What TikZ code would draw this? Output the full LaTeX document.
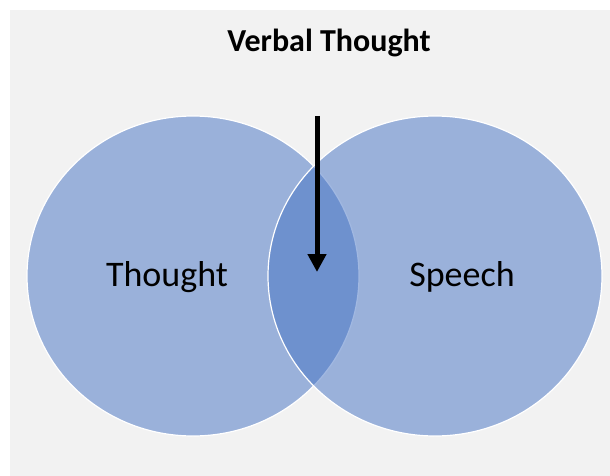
\documentclass[tikz,border=0pt]{standalone}
\usepackage{fontspec}
\setmainfont{Carlito}
\usetikzlibrary{arrows.meta}
\definecolor{vennblue}{HTML}{4472C4}
\definecolor{slidegray}{HTML}{F2F2F2}
\tikzset{vennset/.style={fill=vennblue, fill opacity=0.5, draw=white, line width=1.2pt},
  setlabel/.style={anchor=base, inner sep=0pt, font=\fontsize{36}{40}\selectfont}}

\begin{document}
\begin{tikzpicture}[x=1pt,y=-1pt]
  \useasboundingbox (0,0) rectangle (610,476);
  \fill[slidegray] (10,10) rectangle (610,476);
  % the two sets
  \draw[vennset] (193,276) ellipse (166 and 160);
  \draw[vennset] (435,276) ellipse (167 and 160);
  \node[setlabel] (thought) at (167,286) {Thought};
  \node[setlabel] (speech)  at (462,286) {Speech};
  \node[anchor=base, inner sep=0pt, font=\bfseries\fontsize{32}{36}\selectfont] (verbal) at (329,52) {Verbal Thought};
  % arrow into the overlap
  \coordinate (arrowtop) at (317,116);
  \coordinate (arrowtip) at (317,272);
  \draw[line width=5pt, -{Triangle[length=18pt,width=18pt]}] (arrowtop) -- (arrowtip);
\end{tikzpicture}
\end{document}
